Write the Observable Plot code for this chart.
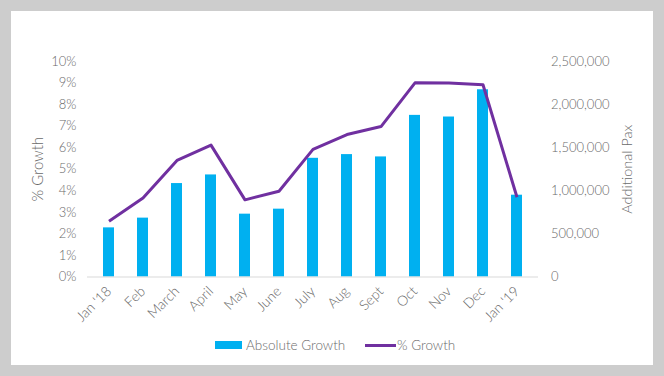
<!DOCTYPE html>
<html>
<head>
<meta charset="utf-8">
<script src="https://cdn.jsdelivr.net/npm/d3@7"></script>
<script src="https://cdn.jsdelivr.net/npm/@observablehq/plot@0.6"></script>
<style>
  html, body { margin: 0; padding: 0; }
  body { width: 664px; height: 376px; background: #cdcdcd; position: relative; overflow: hidden; font-family: Lato, "Open Sans", sans-serif; font-weight: 300; }
  #card { position: absolute; left: 11px; top: 11px; width: 642px; height: 354px; background: #ffffff; }
  #chart { position: absolute; left: 0; top: 0; }
  #legend { position: absolute; top: 336px; left: 0; width: 664px; height: 18px; font-size: 13.5px; color: #6a6a6a; }
  .item { position: absolute; top: 0; display: flex; align-items: center; height: 18px; white-space: nowrap; }
  .sw-bar { width: 27px; height: 8px; background: #00b0f0; margin-right: 4px; }
  .sw-line { width: 31px; height: 3px; background: #7030a0; margin-right: 1px; }
  #chart svg text { font-weight: 300; }
</style>
</head>
<body>
<div id="card"></div>
<div id="chart"></div>
<div id="legend">
  <div class="item" style="left:215px"><span class="sw-bar"></span><span>Absolute Growth</span></div>
  <div class="item" style="left:365px"><span class="sw-line"></span><span>% Growth</span></div>
</div>
<script>
const months = ["Jan '18", "Feb", "March", "April", "May", "June", "July", "Aug", "Sept", "Oct", "Nov", "Dec", "Jan '19"];
const absoluteGrowth = [570000, 683000, 1084000, 1184000, 729000, 787000, 1377000, 1420000, 1393000, 1875000, 1856000, 2172000, 949000];
const pctGrowth = [2.59, 3.67, 5.41, 6.12, 3.58, 3.98, 5.92, 6.61, 6.98, 9.01, 9.00, 8.92, 3.70];
const pctTicks = [0, 1, 2, 3, 4, 5, 6, 7, 8, 9, 10];
const paxTicks = [0, 500000, 1000000, 1500000, 2000000, 2500000];

// left axis (%) shares the pax scale: 10% ↔ 2,500,000
const PCT_TO_PAX = 250000;

const rows = months.map((m, i) => ({month: m, pax: absoluteGrowth[i], pct: pctGrowth[i]}));

const grey = "#6a6a6a";
const plot = Plot.plot({
  width: 664,
  height: 330,
  marginTop: 61,
  marginBottom: 53.5,
  marginLeft: 87,
  marginRight: 126,
  style: {background: "transparent", fontFamily: "Lato, 'Open Sans', sans-serif", fontSize: "13px", color: grey, overflow: "visible"},
  x: {domain: months, paddingInner: 0.69, paddingOuter: 0.345, align: 0.5},
  y: {domain: [0, 2500000]},
  marks: [
    Plot.barY(rows, {x: "month", y: "pax", fill: "#00b0f0"}),
    Plot.ruleY([0], {stroke: "#d9d9d9", strokeWidth: 1.2}),
    Plot.line(rows, {x: "month", y: d => d.pct * PCT_TO_PAX, stroke: "#7030a0", strokeWidth: 3, strokeLinejoin: "round", strokeLinecap: "butt"}),
    Plot.axisY(pctTicks.map(t => t * PCT_TO_PAX), {anchor: "left", tickSize: 0, tickPadding: 11, tickFormat: d => Math.round(d / PCT_TO_PAX) + "%", label: null, fontSize: 13, fill: grey}),
    Plot.axisY(paxTicks, {anchor: "right", tickSize: 0, tickPadding: 12.5, tickFormat: d3.format(","), label: null, fontSize: 13, fill: grey}),
    Plot.axisX({tickSize: 0, tickPadding: 12, tickRotate: -45, label: null, fontSize: 14, fill: grey}),
    Plot.text(["% Growth"], {frameAnchor: "left", dx: -49, rotate: -90, fontSize: 15, fill: grey, textAnchor: "middle", lineAnchor: "middle"}),
    Plot.text(["Additional Pax"], {frameAnchor: "right", dx: 89, rotate: -90, fontSize: 14.5, fill: grey, textAnchor: "middle", lineAnchor: "middle"})
  ]
});
document.getElementById("chart").appendChild(plot);
</script>
</body>
</html>
